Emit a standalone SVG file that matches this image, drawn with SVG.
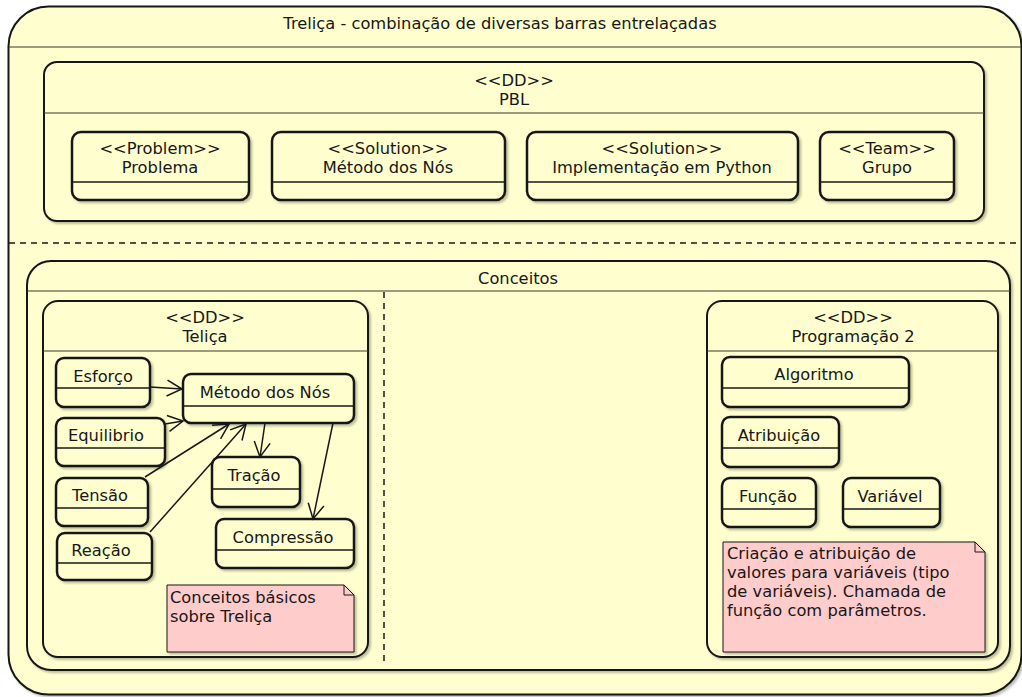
<svg xmlns="http://www.w3.org/2000/svg" width="1022" height="697" viewBox="0 0 1022 697">
<defs>
<filter id="sh" x="-5%" y="-5%" width="115%" height="115%">
<feDropShadow dx="2" dy="2" stdDeviation="1.2" flood-color="#000" flood-opacity="0.25"/>
</filter>
<marker id="arr" markerUnits="userSpaceOnUse" markerWidth="20" markerHeight="20" viewBox="0 0 20 20" refX="16" refY="9" orient="auto">
<path d="M1,1 L16,9 L1,17" fill="none" stroke="#181818" stroke-width="1.5"/>
</marker>
</defs>
<style>
text{font-family:"DejaVu Sans","Liberation Sans",sans-serif;font-size:16.3px;fill:#181818}
.c{text-anchor:middle}
.big{fill:#FEFECE;stroke:#181818;stroke-width:2;filter:url(#sh)}
.node{fill:#FEFECE;stroke:#181818;stroke-width:2.5;filter:url(#sh)}
.hl{stroke:#3a3a2a;stroke-width:1.2}
.sep{stroke:#181818;stroke-width:1.5}
.dash{stroke:#181818;stroke-width:1.5;stroke-dasharray:6,5;fill:none}
.note{fill:#FFCCCC;stroke:#181818;stroke-width:1;filter:url(#sh)}
.edge{stroke:#181818;stroke-width:1.5;fill:none;marker-end:url(#arr)}
</style>
<rect width="1022" height="697" fill="#FFFFFF"/>

<g id="trelica">
<rect class="big" x="8.5" y="6.5" width="1013" height="688" rx="40"/>
<line class="hl" x1="8.5" y1="47" x2="1021" y2="47"/>
<text class="c" x="500" y="29">Treliça - combinação de diversas barras entrelaçadas</text>
<line class="dash" x1="9" y1="243" x2="1021" y2="243"/>
</g>

<g id="pbl">
<rect class="big" x="44" y="62" width="940" height="159" rx="13"/>
<line class="hl" x1="44" y1="113" x2="984" y2="113"/>
<text class="c" x="514" y="86">&lt;&lt;DD&gt;&gt;</text>
<text class="c" x="514" y="105">PBL</text>
</g>

<g id="problema">
<rect class="node" x="72" y="132" width="177" height="68" rx="9"/>
<line class="sep" x1="72" y1="182" x2="249" y2="182"/>
<text class="c" x="160" y="154">&lt;&lt;Problem&gt;&gt;</text>
<text class="c" x="160" y="173">Problema</text>
</g>
<g id="metodo-sol">
<rect class="node" x="272" y="132" width="233" height="68" rx="9"/>
<line class="sep" x1="272" y1="182" x2="505" y2="182"/>
<text class="c" x="388" y="154">&lt;&lt;Solution&gt;&gt;</text>
<text class="c" x="388" y="173">Método dos Nós</text>
</g>
<g id="implementacao">
<rect class="node" x="527" y="132" width="271" height="68" rx="9"/>
<line class="sep" x1="527" y1="182" x2="798" y2="182"/>
<text class="c" x="662" y="154">&lt;&lt;Solution&gt;&gt;</text>
<text class="c" x="662" y="173">Implementação em Python</text>
</g>
<g id="grupo">
<rect class="node" x="820" y="132" width="134" height="68" rx="9"/>
<line class="sep" x1="820" y1="182" x2="954" y2="182"/>
<text class="c" x="887" y="154">&lt;&lt;Team&gt;&gt;</text>
<text class="c" x="887" y="173">Grupo</text>
</g>

<g id="conceitos">
<rect class="big" x="27" y="261" width="983" height="409" rx="24"/>
<line class="hl" x1="27" y1="291" x2="1010" y2="291"/>
<text class="c" x="518" y="284">Conceitos</text>
<line class="dash" x1="384" y1="292" x2="384" y2="665"/>
</g>

<g id="telica">
<rect class="big" x="43" y="301" width="325" height="356" rx="15"/>
<line class="hl" x1="43" y1="351" x2="368" y2="351"/>
<text class="c" x="205" y="323">&lt;&lt;DD&gt;&gt;</text>
<text class="c" x="205" y="342">Teliça</text>
</g>

<g id="esforco">
<rect class="node" x="56" y="358" width="94" height="49" rx="8"/>
<line class="sep" x1="56" y1="388" x2="150" y2="388"/>
<text class="c" x="103" y="382">Esforço</text>
</g>
<g id="metodo">
<rect class="node" x="183" y="374" width="171" height="49" rx="8"/>
<line class="sep" x1="183" y1="406" x2="354" y2="406"/>
<text class="c" x="265" y="398">Método dos Nós</text>
</g>
<g id="equilibrio">
<rect class="node" x="56" y="418" width="109" height="48" rx="8"/>
<line class="sep" x1="56" y1="448" x2="165" y2="448"/>
<text class="c" x="106" y="441">Equilibrio</text>
</g>
<g id="tensao">
<rect class="node" x="56" y="478" width="92" height="48" rx="8"/>
<line class="sep" x1="56" y1="508" x2="148" y2="508"/>
<text class="c" x="100" y="501">Tensão</text>
</g>
<g id="reacao">
<rect class="node" x="57" y="533" width="95" height="47" rx="8"/>
<line class="sep" x1="57" y1="563" x2="152" y2="563"/>
<text class="c" x="101" y="556">Reação</text>
</g>
<g id="tracao">
<rect class="node" x="212" y="457" width="88" height="50" rx="8"/>
<line class="sep" x1="212" y1="489" x2="300" y2="489"/>
<text class="c" x="254" y="481">Tração</text>
</g>
<g id="compressao">
<rect class="node" x="216" y="519" width="138" height="49" rx="8"/>
<line class="sep" x1="216" y1="550" x2="354" y2="550"/>
<text class="c" x="283" y="543">Compressão</text>
</g>
<g id="note-trelica">
<path class="note" d="M167,585 L344,585 L354,595 L354,652 L167,652 Z"/>
<path d="M344,585 L344,595 L354,595" fill="none" stroke="#181818" stroke-width="1"/>
<text x="170" y="603">Conceitos básicos</text>
<text x="170" y="622">sobre Treliça</text>
</g>

<g id="programacao">
<rect class="big" x="707" y="301" width="291" height="356" rx="15"/>
<line class="hl" x1="707" y1="351" x2="998" y2="351"/>
<text class="c" x="853" y="323">&lt;&lt;DD&gt;&gt;</text>
<text class="c" x="853" y="342">Programação 2</text>
</g>
<g id="algoritmo">
<rect class="node" x="722" y="357" width="187" height="50" rx="8"/>
<line class="sep" x1="722" y1="388" x2="909" y2="388"/>
<text class="c" x="814" y="380">Algoritmo</text>
</g>
<g id="atribuicao">
<rect class="node" x="722" y="417" width="117" height="50" rx="8"/>
<line class="sep" x1="722" y1="448" x2="839" y2="448"/>
<text class="c" x="779" y="441">Atribuição</text>
</g>
<g id="funcao">
<rect class="node" x="722" y="478" width="94" height="49" rx="8"/>
<line class="sep" x1="722" y1="509" x2="816" y2="509"/>
<text class="c" x="768" y="502">Função</text>
</g>
<g id="variavel">
<rect class="node" x="843" y="478" width="97" height="49" rx="8"/>
<line class="sep" x1="843" y1="509" x2="940" y2="509"/>
<text class="c" x="890" y="502">Variável</text>
</g>
<g id="note-prog">
<path class="note" d="M723,542 L975,542 L985,552 L985,652 L723,652 Z"/>
<path d="M975,542 L975,552 L985,552" fill="none" stroke="#181818" stroke-width="1"/>
<text x="727" y="559">Criação e atribuição de</text>
<text x="727" y="578">valores para variáveis (tipo</text>
<text x="727" y="597">de variáveis). Chamada de</text>
<text x="727" y="616">função com parâmetros.</text>
</g>

<g id="connectors">
<line class="edge" x1="150" y1="387" x2="182" y2="389"/>
<line class="edge" x1="165" y1="424" x2="183" y2="421"/>
<line class="edge" x1="145" y1="477" x2="229" y2="424"/>
<line class="edge" x1="150" y1="532" x2="246" y2="424"/>
<line class="edge" x1="265" y1="423" x2="260" y2="457"/>
<line class="edge" x1="333" y1="423" x2="313" y2="519"/>
</g>
</svg>
